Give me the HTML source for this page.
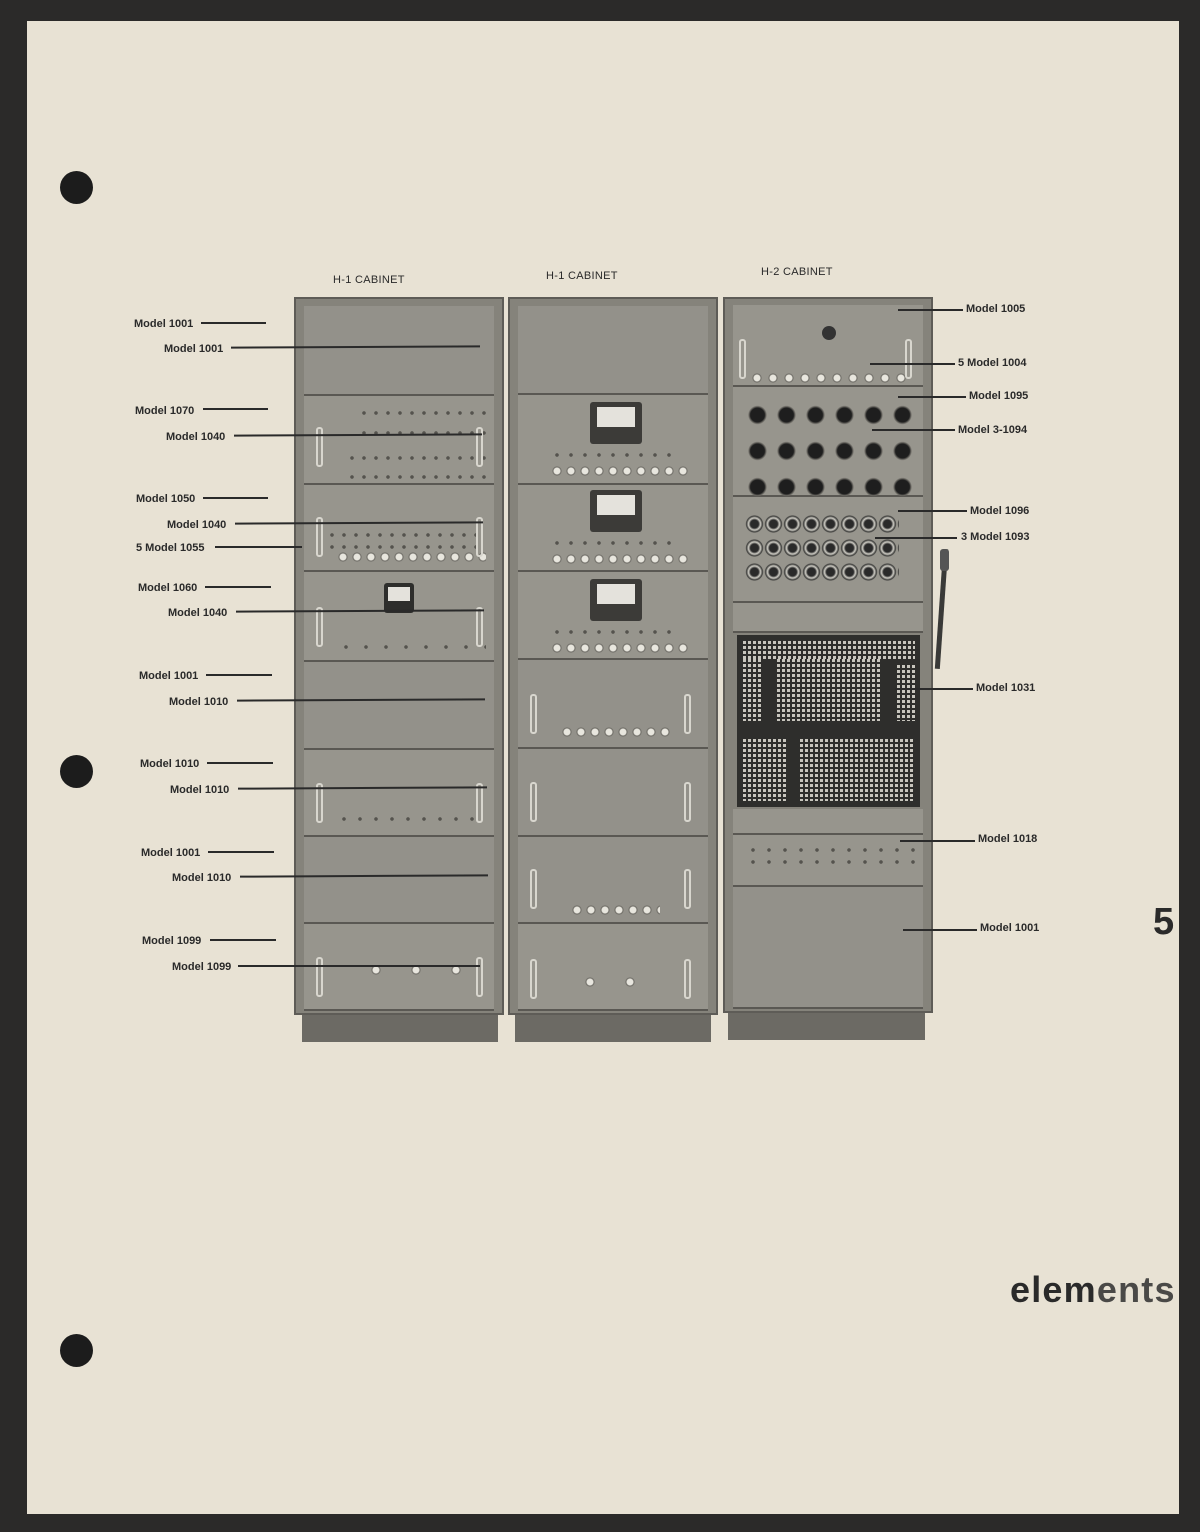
<!DOCTYPE html>
<html><head><meta charset="utf-8"><style>
*{margin:0;padding:0;box-sizing:border-box}
body{width:1200px;height:1532px;background:#2b2a29;position:relative;overflow:hidden;font-family:"Liberation Sans",sans-serif}
#page{position:absolute;left:27px;top:21px;width:1152px;height:1493px;background:#e8e2d4}
.a{position:absolute}
.hole{position:absolute;width:33px;height:33px;border-radius:50%;background:#1c1c1c}
.cab{position:absolute;background:#85837b;border:2px solid #5e5c57}
.base{position:absolute;background:#6c6a64}
.pan{position:absolute;left:8px;right:8px;background:#97958d;border-bottom:2px solid #5a5853}
.ln{position:absolute;height:2px;background:#2a2a2a}
.t{position:absolute;font-size:11px;font-weight:bold;color:#2a2a2a;white-space:nowrap;line-height:12px}
.hd{position:absolute;font-size:11px;color:#2a2a2a;white-space:nowrap;letter-spacing:0.3px}
.dots{position:absolute;background-image:radial-gradient(circle,#55534e 1.6px,transparent 2px);background-size:12px 12px}
.kn{position:absolute;background-image:radial-gradient(circle,#e8e6de 3px,#6a6862 4px,transparent 5px);background-size:14px 14px}
.meter{position:absolute;width:52px;height:42px;background:#3c3b38;border-radius:3px}
.meter i{position:absolute;left:7px;top:5px;width:38px;height:20px;background:#e4e2dc}
.hdl{position:absolute;width:7px;height:40px;border:2px solid #d8d6ce;border-radius:3px}
.bk{position:absolute;background-image:radial-gradient(circle,#1e1e1e 7px,#6a6862 8.5px,transparent 9.5px);background-size:29px 36px}
.jk{position:absolute;background-image:radial-gradient(circle,#2a2a2a 4px,#d0cec6 6px,#3a3a38 8px,transparent 9px);background-size:19px 24px}
.grid{position:absolute;background-color:#c8c6be;background-image:linear-gradient(90deg,transparent 3px,#2e2e2c 3px),linear-gradient(transparent 3px,#2e2e2c 3px);background-size:5px 5px}
</style></head><body>
<div id="page"></div>
<div class="hole" style="left:60px;top:171px"></div>
<div class="hole" style="left:60px;top:755px"></div>
<div class="hole" style="left:60px;top:1334px"></div>

<div class="hd" style="left:333px;top:274px">H-1 CABINET</div>
<div class="hd" style="left:546px;top:270px">H-1 CABINET</div>
<div class="hd" style="left:761px;top:266px">H-2 CABINET</div>

<div class="base" style="left:302px;top:1014px;width:196px;height:28px"></div>
<div class="base" style="left:515px;top:1014px;width:196px;height:28px"></div>
<div class="base" style="left:728px;top:1012px;width:197px;height:28px"></div>

<div class="cab" style="left:294px;top:297px;width:210px;height:718px">
 <div class="pan" style="top:7px;height:90px;background:#93918a"></div>
 <div class="pan" style="top:97px;height:89px"></div>
 <div class="pan" style="top:186px;height:87px"></div>
 <div class="pan" style="top:273px;height:90px"></div>
 <div class="pan" style="top:363px;height:88px;background:#93918a"></div>
 <div class="pan" style="top:451px;height:87px"></div>
 <div class="pan" style="top:538px;height:87px;background:#93918a"></div>
 <div class="pan" style="top:625px;height:87px"></div>
 <div class="dots" style="left:62px;top:108px;width:130px;height:12px"></div>
 <div class="dots" style="left:62px;top:128px;width:130px;height:12px"></div>
 <div class="dots" style="left:50px;top:153px;width:140px;height:12px"></div>
 <div class="dots" style="left:50px;top:172px;width:140px;height:12px"></div>
 <div class="dots" style="left:30px;top:230px;width:150px;height:24px"></div>
 <div class="kn" style="left:40px;top:251px;width:150px;height:14px"></div>
 <div class="dots" style="left:40px;top:342px;width:150px;height:12px;background-size:20px 12px"></div>
 <div class="dots" style="left:40px;top:514px;width:150px;height:12px;background-size:16px 12px"></div>
 <div class="kn" style="left:60px;top:664px;width:120px;height:14px;background-size:40px 14px"></div>
 <div class="meter" style="left:88px;top:284px;width:30px;height:30px;background:#2e2e2c"><i style="left:4px;top:4px;width:22px;height:14px"></i></div>
 <div class="hdl" style="left:20px;top:128px"></div><div class="hdl" style="left:180px;top:128px"></div>
 <div class="hdl" style="left:20px;top:218px"></div><div class="hdl" style="left:180px;top:218px"></div>
 <div class="hdl" style="left:20px;top:308px"></div><div class="hdl" style="left:180px;top:308px"></div>
 <div class="hdl" style="left:20px;top:484px"></div><div class="hdl" style="left:180px;top:484px"></div>
 <div class="hdl" style="left:20px;top:658px"></div><div class="hdl" style="left:180px;top:658px"></div>
</div>

<div class="cab" style="left:508px;top:297px;width:210px;height:718px">
 <div class="pan" style="top:7px;height:89px;background:#93918a"></div>
 <div class="pan" style="top:96px;height:90px"></div>
 <div class="pan" style="top:186px;height:87px"></div>
 <div class="pan" style="top:273px;height:88px"></div>
 <div class="pan" style="top:361px;height:89px;background:#93918a"></div>
 <div class="pan" style="top:450px;height:88px;background:#93918a"></div>
 <div class="pan" style="top:538px;height:87px;background:#93918a"></div>
 <div class="pan" style="top:625px;height:87px"></div>
 <div class="meter" style="left:80px;top:103px"><i></i></div>
 <div class="meter" style="left:80px;top:191px"><i></i></div>
 <div class="meter" style="left:80px;top:280px"><i></i></div>
 <div class="dots" style="left:40px;top:150px;width:130px;height:12px;background-size:14px 12px"></div>
 <div class="kn" style="left:40px;top:165px;width:140px;height:14px"></div>
 <div class="dots" style="left:40px;top:238px;width:130px;height:12px;background-size:14px 12px"></div>
 <div class="kn" style="left:40px;top:253px;width:140px;height:14px"></div>
 <div class="dots" style="left:40px;top:327px;width:130px;height:12px;background-size:14px 12px"></div>
 <div class="kn" style="left:40px;top:342px;width:140px;height:14px"></div>
 <div class="kn" style="left:50px;top:426px;width:110px;height:14px"></div>
 <div class="kn" style="left:60px;top:604px;width:90px;height:14px"></div>
 <div class="kn" style="left:60px;top:676px;width:90px;height:14px;background-size:40px 14px"></div>
 <div class="hdl" style="left:20px;top:395px"></div><div class="hdl" style="left:174px;top:395px"></div>
 <div class="hdl" style="left:20px;top:483px"></div><div class="hdl" style="left:174px;top:483px"></div>
 <div class="hdl" style="left:20px;top:570px"></div><div class="hdl" style="left:174px;top:570px"></div>
 <div class="hdl" style="left:20px;top:660px"></div><div class="hdl" style="left:174px;top:660px"></div>
</div>

<div class="cab" style="left:723px;top:297px;width:210px;height:716px">
 <div class="pan" style="top:6px;height:82px"></div>
 <div class="pan" style="top:88px;height:110px"></div>
 <div class="pan" style="top:198px;height:106px"></div>
 <div class="pan" style="top:304px;height:30px"></div>
 <div class="pan" style="top:510px;height:26px"></div>
 <div class="pan" style="top:536px;height:52px"></div>
 <div class="pan" style="top:588px;height:122px;background:#93918a"></div>
 <div class="a" style="left:97px;top:27px;width:14px;height:14px;border-radius:50%;background:#333"></div>
 <div class="kn" style="left:24px;top:72px;width:160px;height:14px;background-size:16px 14px"></div>
 <div class="hdl" style="left:14px;top:40px"></div><div class="hdl" style="left:180px;top:40px"></div>
 <div class="bk" style="left:18px;top:98px;width:176px;height:108px"></div>
 <div class="jk" style="left:20px;top:213px;width:154px;height:72px"></div>
 <div class="dots" style="left:20px;top:545px;width:170px;height:24px;background-size:16px 12px"></div>
 <div class="a" style="left:12px;top:336px;width:183px;height:172px;background:#2e2e2c"></div>
 <div class="grid" style="left:18px;top:342px;width:172px;height:18px"></div>
 <div class="grid" style="left:18px;top:360px;width:18px;height:62px"></div>
 <div class="grid" style="left:52px;top:360px;width:104px;height:62px"></div>
 <div class="grid" style="left:172px;top:366px;width:18px;height:56px"></div>
 <div class="grid" style="left:18px;top:440px;width:44px;height:62px"></div>
 <div class="grid" style="left:75px;top:440px;width:115px;height:62px"></div>
 <div class="a" style="left:214px;top:250px;width:5px;height:120px;background:#3a3a38;transform:rotate(4deg)"></div>
 <div class="a" style="left:215px;top:250px;width:9px;height:22px;background:#555;border-radius:3px"></div>
</div>

<div class="t" style="left:134px;top:318px">Model 1001</div><div class="ln" style="left:201px;top:322px;width:65px"></div>
<div class="t" style="left:164px;top:343px">Model 1001</div><div class="ln" style="left:231px;top:346px;width:249px;transform:rotate(-0.3deg)"></div>
<div class="t" style="left:135px;top:405px">Model 1070</div><div class="ln" style="left:203px;top:408px;width:65px"></div>
<div class="t" style="left:166px;top:431px">Model 1040</div><div class="ln" style="left:234px;top:434px;width:248px;transform:rotate(-0.3deg)"></div>
<div class="t" style="left:136px;top:493px">Model 1050</div><div class="ln" style="left:203px;top:497px;width:65px"></div>
<div class="t" style="left:167px;top:519px">Model 1040</div><div class="ln" style="left:235px;top:522px;width:248px;transform:rotate(-0.3deg)"></div>
<div class="t" style="left:136px;top:542px">5 Model 1055</div><div class="ln" style="left:215px;top:546px;width:87px"></div>
<div class="t" style="left:138px;top:582px">Model 1060</div><div class="ln" style="left:205px;top:586px;width:66px"></div>
<div class="t" style="left:168px;top:607px">Model 1040</div><div class="ln" style="left:236px;top:610px;width:248px;transform:rotate(-0.3deg)"></div>
<div class="t" style="left:139px;top:670px">Model 1001</div><div class="ln" style="left:206px;top:674px;width:66px"></div>
<div class="t" style="left:169px;top:696px">Model 1010</div><div class="ln" style="left:237px;top:699px;width:248px;transform:rotate(-0.3deg)"></div>
<div class="t" style="left:140px;top:758px">Model 1010</div><div class="ln" style="left:207px;top:762px;width:66px"></div>
<div class="t" style="left:170px;top:784px">Model 1010</div><div class="ln" style="left:238px;top:787px;width:249px;transform:rotate(-0.3deg)"></div>
<div class="t" style="left:141px;top:847px">Model 1001</div><div class="ln" style="left:208px;top:851px;width:66px"></div>
<div class="t" style="left:172px;top:872px">Model 1010</div><div class="ln" style="left:240px;top:875px;width:248px;transform:rotate(-0.3deg)"></div>
<div class="t" style="left:142px;top:935px">Model 1099</div><div class="ln" style="left:210px;top:939px;width:66px"></div>
<div class="t" style="left:172px;top:961px">Model 1099</div><div class="ln" style="left:238px;top:965px;width:242px"></div>

<div class="ln" style="left:898px;top:309px;width:65px"></div><div class="t" style="left:966px;top:303px">Model 1005</div>
<div class="ln" style="left:870px;top:363px;width:85px"></div><div class="t" style="left:958px;top:357px">5 Model 1004</div>
<div class="ln" style="left:898px;top:396px;width:68px"></div><div class="t" style="left:969px;top:390px">Model 1095</div>
<div class="ln" style="left:872px;top:429px;width:83px"></div><div class="t" style="left:958px;top:424px">Model 3-1094</div>
<div class="ln" style="left:898px;top:510px;width:69px"></div><div class="t" style="left:970px;top:505px">Model 1096</div>
<div class="ln" style="left:875px;top:537px;width:82px"></div><div class="t" style="left:961px;top:531px">3 Model 1093</div>
<div class="ln" style="left:895px;top:688px;width:78px"></div><div class="t" style="left:976px;top:682px">Model 1031</div>
<div class="ln" style="left:900px;top:840px;width:75px"></div><div class="t" style="left:978px;top:833px">Model 1018</div>
<div class="ln" style="left:903px;top:929px;width:74px"></div><div class="t" style="left:980px;top:922px">Model 1001</div>

<div class="a" style="left:1153px;top:900px;font-size:38px;font-weight:bold;color:#2a2a2a;line-height:44px">5</div>
<div class="a" style="left:1010px;top:1268px;font-size:36px;font-weight:bold;color:#2a2a2a;line-height:44px;letter-spacing:1.2px">elem<span style="color:#4a4947">ents</span></div>
</body></html>
